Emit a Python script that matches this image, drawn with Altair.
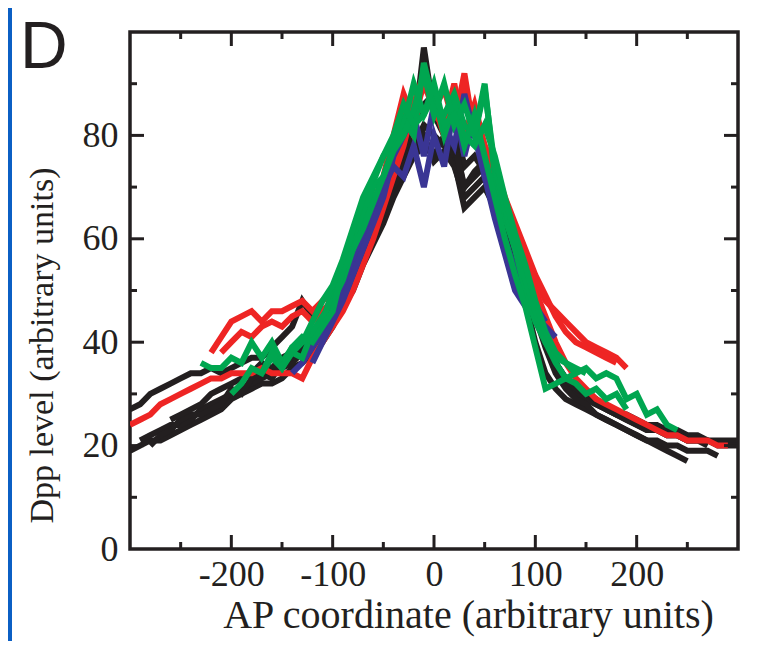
import altair as alt
import pandas as pd

# ---------------- data ----------------
# each curve: (colour group, first x, y values every 10 units of x)
K1 = [27, 28, 30, 31, 32, 33, 34, 34, 35, 34, 35, 36, 37, 37, 39, 41, 43, 48, 45, 46,
      48, 52, 55, 59, 63, 67, 72, 76, 80, 97, 84, 80, 83, 74, 76, 73, 70, 65, 60, 55,
      48, 42, 36, 33, 31, 29, 28, 27, 26, 26, 25, 24, 24, 23, 23, 22, 22, 21, 21, 21, 21]
K2 = [19, 20, 21, 21, 22, 23, 24, 25, 26, 27, 29, 30, 31, 32, 32, 33, 35, 36, 38, 40,
      43, 47, 50, 55, 59, 63, 68, 72, 76, 78, 76, 80, 75, 66, 68, 70, 66, 61, 55, 48,
      40, 34, 31, 29, 28, 27, 26, 25, 24, 23, 22, 21, 20, 19, 18, 17]
K3 = [21, 22, 23, 24, 24, 25, 27, 28, 29, 30, 31, 32, 33, 34, 35, 36, 38, 40, 42, 45,
      48, 53, 57, 62, 66, 70, 74, 78, 82, 80, 78, 79, 70, 72, 74, 68, 63, 58, 52, 46,
      40, 35, 32, 30, 29, 28, 27, 26, 25, 24, 23, 23, 22, 22, 21, 21, 21, 20, 20, 20]
K4 = [20, 22, 23, 25, 26, 26, 27, 28, 31, 30, 33, 34, 33, 36, 37, 39, 41, 44, 46, 50,
      54, 58, 61, 65, 70, 73, 77, 80, 75, 77, 74, 68, 70, 72, 67, 61, 56, 51, 45, 39,
      34, 31, 29, 28, 26, 25, 24, 23, 22, 21, 21, 20, 20, 19, 19, 19, 18]
K5 = [25, 26, 27, 28, 30, 31, 32, 33, 34, 36, 35, 37, 38, 40, 42, 44, 47, 51, 56, 60,
      64, 69, 73, 77, 82, 86, 88, 81, 78, 70, 73, 75, 69, 64, 58, 52, 47, 41, 36, 33,
      31, 30, 29, 27, 26, 25, 24, 23, 23, 22, 22, 21, 21, 20]
R1 = [24, 25, 26, 28, 29, 30, 31, 32, 33, 33, 34, 34, 34, 35, 34, 34, 34, 33, 37, 40,
      43, 46, 50, 55, 60, 66, 72, 78, 86, 92, 84, 82, 90, 80, 86, 78, 72, 66, 60, 55,
      50, 45, 40, 36, 33, 31, 29, 28, 27, 26, 25, 24, 23, 22, 22, 21, 21, 21, 20, 20]
R2 = [38, 41, 44, 45, 46, 44, 46, 46, 47, 48, 46, 48, 50, 54, 58, 63, 67, 72, 80,
      88, 83, 90, 85, 89, 82, 92, 80, 76, 71, 66, 61, 56, 52, 48, 46, 44, 42, 40, 39,
      38, 37, 35]
R3 = [38, 40, 42, 41, 43, 44, 43, 45, 46, 44, 46, 48, 52, 56, 60, 65, 69, 74, 84, 80,
      93, 86, 80, 84, 88, 84, 78, 74, 68, 63, 58, 53, 49, 45, 42, 40, 39, 38, 37, 36]
U1 = [34, 36, 39, 42, 45, 50, 55, 60, 66, 70, 74, 72, 78, 70, 80, 74, 86, 76, 84, 72,
      64, 57, 50, 47, 45, 43, 41]
U2 = [36, 40, 44, 48, 53, 58, 63, 68, 76, 80, 84, 76, 86, 82, 78, 88, 80, 72, 66, 60,
      54, 50, 47, 44]
G1 = [36, 35, 35, 37, 36, 40, 37, 40, 36, 39, 40, 41, 44, 50, 55, 60, 66, 71, 76, 79,
      83, 80, 94, 86, 84, 88, 82, 80, 90, 72, 64, 58, 50, 44, 40, 37, 36, 34, 35, 33,
      34, 33, 29, 30, 26, 27, 24, 23]
G2 = [30, 32, 35, 34, 38, 35, 38, 37, 42, 45, 48, 52, 58, 64, 70, 72, 78, 82, 90, 84,
      88, 80, 86, 78, 84, 76, 68, 60, 53, 47, 39, 31, 32, 33, 32, 30, 31, 29, 30, 27]
G3 = [34, 37, 35, 39, 41, 40, 43, 46, 54, 58, 62, 67, 72, 77, 80, 85, 92, 84, 90, 82,
      86, 80, 89, 74, 66, 58, 52, 46, 40, 36, 33, 34]
G4 = [38, 40, 44, 48, 51, 56, 62, 68, 72, 76, 80, 86, 82, 84, 90, 82, 84, 80, 78, 82,
      76, 68, 61, 55, 48, 42, 38, 36, 35, 34]

curves = [
    ("black", -300, K1), ("black", -300, K2), ("black", -290, K3),
    ("black", -280, K4), ("black", -260, K5),
    ("red", -300, R1), ("red", -220, R2), ("red", -210, R3),
    ("blue", -140, U1), ("blue", -120, U2),
    ("green", -230, G1), ("green", -200, G2), ("green", -170, G3), ("green", -140, G4),
]

x_labels = [-200, -100, 0, 100, 200]
x_minor = [-250, -150, -50, 50, 150, 250]
y_labels = [0, 20, 40, 60, 80]
y_major = [20, 40, 60, 80]
y_minor = [10, 30, 50, 70, 90]

colours = {"black": "#231f20", "red": "#ee2524", "blue": "#3a3594", "green": "#00a650"}

rows = []
for i, (grp, start, vals) in enumerate(curves):
    for j, v in enumerate(vals):
        rows.append({"curve": f"c{i}", "grp": grp, "x": start + 10 * j, "y": v, "o": j})
df = pd.DataFrame(rows)

# ---------------- chart ----------------
W, H = 608, 517
INK = "#231f20"
SERIF = "Liberation Serif"
xs = alt.Scale(domain=[-300, 300], nice=False, zero=False)
ys = alt.Scale(domain=[0, 100], nice=False, zero=False)

x_axis = alt.Axis(values=x_labels, labelExpr="'' + datum.value",
                  title="AP coordinate (arbitrary units)",
                  labelFont=SERIF, labelFontSize=36, labelColor=INK, labelPadding=8,
                  labelFlush=False, labelOverlap=False,
                  ticks=False, tickSize=0, domain=False, grid=False,
                  titleFont=SERIF, titleFontSize=40, titleFontWeight="normal", titleColor=INK,
                  titleX=338, titleY=78, titleBaseline="alphabetic", titleAlign="center")
y_axis = alt.Axis(values=y_labels, labelExpr="'' + datum.value",
                  title="Dpp level (arbitrary units)",
                  labelFont=SERIF, labelFontSize=36, labelColor=INK, labelPadding=12,
                  labelFlush=False, labelOverlap=False,
                  ticks=False, tickSize=0, domain=False, grid=False,
                  titleFont=SERIF, titleFontSize=34, titleFontWeight="normal", titleColor=INK,
                  titleX=-78, titleY=313, titleBaseline="alphabetic", titleAlign="center",
                  titleAngle=270)

X = alt.X("x:Q", scale=xs, axis=x_axis)
Y = alt.Y("y:Q", scale=ys, axis=y_axis)

layers = []
# line layers (carry the axes)
for grp in ["black", "red", "blue", "green"]:
    layers.append(
        alt.Chart(df).transform_filter(alt.datum.grp == grp)
        .mark_line(color=colours[grp], strokeWidth=6, strokeJoin="miter", clip=True)
        .encode(x=X, y=Y, detail="curve:N", order="o:Q"))

def xticks(vals, length):
    d = pd.DataFrame({"x": vals})
    bottom = alt.Chart(d).mark_rule(color=INK, strokeWidth=3).encode(
        x=X, y=alt.value(H), y2=alt.value(H - length))
    top = alt.Chart(d).mark_rule(color=INK, strokeWidth=3).encode(
        x=X, y=alt.value(0), y2=alt.value(length))
    return [bottom, top]

def yticks(vals, length):
    d = pd.DataFrame({"y": vals})
    left = alt.Chart(d).mark_rule(color=INK, strokeWidth=3).encode(
        y=Y, x=alt.value(0), x2=alt.value(length))
    right = alt.Chart(d).mark_rule(color=INK, strokeWidth=3).encode(
        y=Y, x=alt.value(W), x2=alt.value(W - length))
    return [left, right]

layers += xticks(x_labels, 14) + xticks(x_minor, 7)
layers += yticks(y_major, 14) + yticks(y_minor, 7)

# blue border strip at the left of the figure
layers.append(alt.Chart(pd.DataFrame({"a": [0]})).mark_rect(color="#0b5fc4").encode(
    x=alt.value(-140), x2=alt.value(-118), y=alt.value(-60), y2=alt.value(H + 200)))

layers.append(alt.Chart(pd.DataFrame({"t": ["D"]})).mark_text(
    font="Liberation Sans", fontSize=66, color=INK, align="left", baseline="alphabetic"
).encode(text="t:N", x=alt.value(-110), y=alt.value(36)))

chart = alt.layer(*layers).properties(
    width=W, height=H,
    autosize=alt.AutoSizeParams(type="none"),
    padding={"left": 122, "top": 24, "right": 10, "bottom": 92},
    background="white",
).configure_view(stroke=INK, strokeWidth=3.5)

chart.save("out.html", embed_options={"renderer": "svg", "actions": False})
